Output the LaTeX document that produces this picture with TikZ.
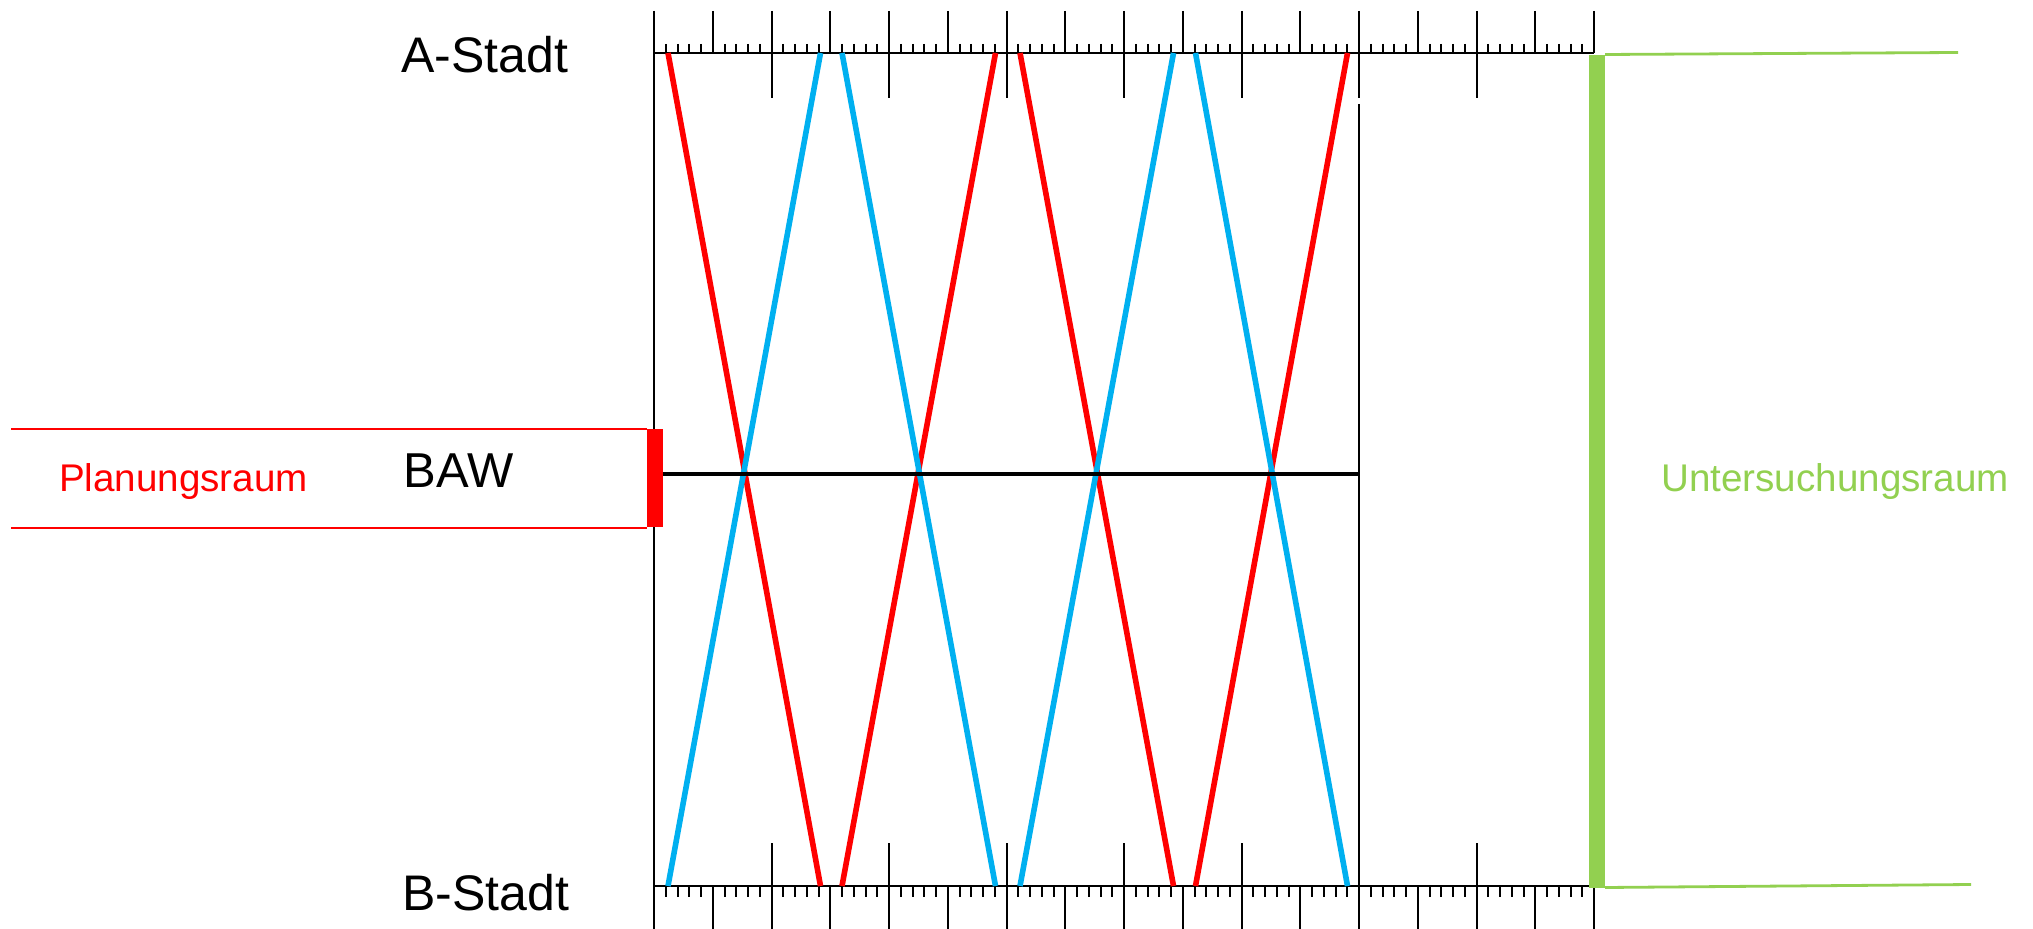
\documentclass[tikz,border=0pt]{standalone}
\usepackage{fontspec}
\setmainfont{Liberation Sans}
\definecolor{zred}{HTML}{FF0000}
\definecolor{zblue}{HTML}{00B0F0}
\definecolor{zgreen}{HTML}{92D050}
\begin{document}
\begin{tikzpicture}[x=0.5pt,y=-0.5pt,
  axisline/.style={line width=1.3pt,black},
  tickline/.style={line width=1pt,black},
  redline/.style={line width=2.8pt,zred},
  blueline/.style={line width=2.8pt,zblue},
  bawline/.style={line width=2.4pt,black},
  bigtext/.style={anchor=base,inner sep=0pt,font=\fontsize{25pt}{30pt}\selectfont},
  smalltext/.style={anchor=base,inner sep=0pt,font=\fontsize{19.3pt}{23pt}\selectfont}]
\useasboundingbox (0,0) rectangle (2033,929);

% ---------- top ruler ----------
\foreach \i in {0,...,16}{
  \draw[tickline] ({654+58.75*\i},11) -- ({654+58.75*\i},53);
}
\foreach \i in {0,...,15}{
  \foreach \j in {1,...,4}{
    \draw[tickline] ({654+58.75*\i+11.75*\j},44) -- ({654+58.75*\i+11.75*\j},53);
  }
}
\foreach \i in {2,4,...,14}{
  \draw[tickline] ({654+58.75*\i},53) -- ({654+58.75*\i},98);
}
\draw[axisline] (654,53) -- (1594,53);

% ---------- bottom ruler ----------
\foreach \i in {0,...,16}{
  \draw[tickline] ({654+58.75*\i},886) -- ({654+58.75*\i},929);
}
\foreach \i in {0,...,15}{
  \foreach \j in {1,...,4}{
    \draw[tickline] ({654+58.75*\i+11.75*\j},886) -- ({654+58.75*\i+11.75*\j},897);
  }
}
\foreach \i in {2,4,...,14}{
  \draw[tickline] ({654+58.75*\i},843) -- ({654+58.75*\i},886);
}
\draw[axisline] (654,886) -- (1595,886);

% ---------- vertical borders ----------
\draw[tickline] (654,11) -- (654,929);
\draw[tickline] (1359,104) -- (1359,886);

% ---------- green Untersuchungsraum ----------
\fill[zgreen] (1589,55) rectangle (1605,888);
\coordinate (gt0) at (1605,54.5);
\coordinate (gt1) at (1958,52.5);
\coordinate (gb0) at (1605,887.5);
\coordinate (gb1) at (1971,884.5);
\draw[zgreen,line width=1.4pt] (gt0) -- (gt1);
\draw[zgreen,line width=1.4pt] (gb0) -- (gb1);

% ---------- red Planungsraum ----------
\fill[zred] (647,429) rectangle (663,527);
\coordinate (pt0) at (11,429);
\coordinate (pt1) at (647,429);
\coordinate (pb0) at (11,528);
\coordinate (pb1) at (647,528);
\draw[zred,line width=1.2pt] (pt0) -- (pt1);
\draw[zred,line width=1.2pt] (pb0) -- (pb1);

% ---------- zigzag end points ----------
\foreach \n/\x in {0/668,1/820.5,2/842,3/995.5,4/1020,5/1173.5,6/1195.5,7/1347.5}{
  \coordinate (t\n) at (\x,53);
  \coordinate (b\n) at (\x,886);
}
\draw[redline] (t0) -- (b1);
\draw[redline] (b2) -- (t3);
\draw[redline] (t4) -- (b5);
\draw[redline] (b6) -- (t7);
\draw[blueline] (b0) -- (t1);
\draw[blueline] (t2) -- (b3);
\draw[blueline] (b4) -- (t5);
\draw[blueline] (t6) -- (b7);

% ---------- BAW line ----------
\coordinate (bawL) at (663,474);
\coordinate (bawR) at (1359,474);
\draw[bawline] (bawL) -- (bawR);

% ---------- labels ----------
\node[bigtext] (astadt) at (485,73) {A-Stadt};
\node[bigtext] (bstadt) at (486,910) {B-Stadt};
\node[anchor=base,inner sep=0pt,font=\fontsize{24.5pt}{29pt}\selectfont] (baw) at (458.5,488) {BAW};
\node[smalltext,text=zred] (plan) at (183.5,492) {Planungsraum};
\node[smalltext,text=zgreen] (unters) at (1835,492) {Untersuchungsraum};
\end{tikzpicture}
\end{document}
